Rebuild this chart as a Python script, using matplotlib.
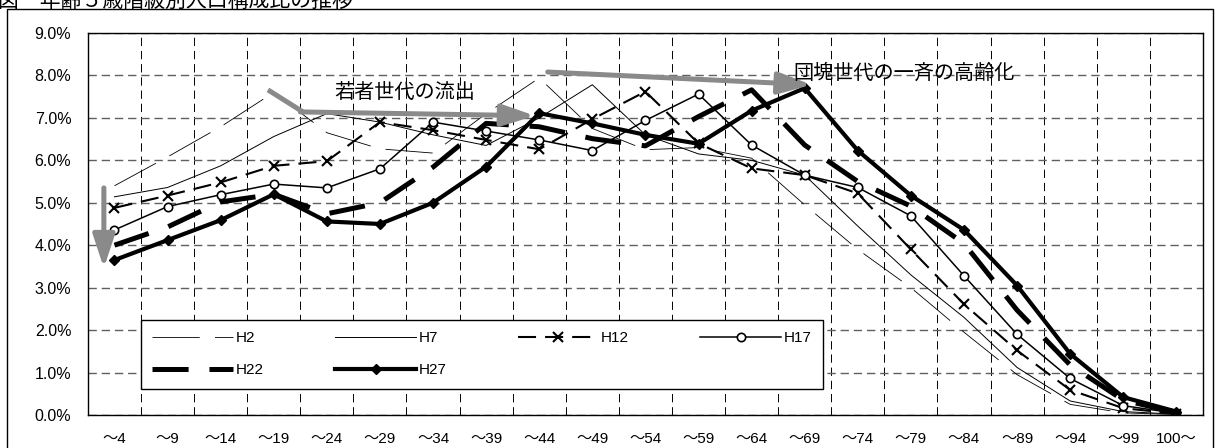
import matplotlib
matplotlib.use('Agg')
import matplotlib.pyplot as plt
from matplotlib.patches import Rectangle

plt.rcParams['font.family'] = ['Liberation Sans', 'Noto Sans CJK JP']
plt.rcParams['lines.scale_dashes'] = False

# 年齢階級
ages = ['～4', '～9', '～14', '～19', '～24', '～29', '～34', '～39', '～44', '～49',
        '～54', '～59', '～64', '～69', '～74', '～79', '～84', '～89', '～94', '～99', '100～']

# 構成比 (%)
h2 = [5.40, 6.08, 6.79, 7.60, 6.65, 6.27, 6.17, 7.10, 7.94, 6.75,
      6.25, 6.30, 6.05, 4.95, 3.90, 3.00, 1.95, 0.95, 0.25, 0.05, 0.01]
h7 = [5.14, 5.36, 5.87, 6.56, 7.10, 6.90, 6.60, 6.35, 7.00, 7.78,
      6.60, 6.15, 6.00, 5.65, 4.45, 3.30, 2.30, 1.12, 0.33, 0.08, 0.02]
h12 = [4.88, 5.17, 5.48, 5.87, 5.98, 6.90, 6.71, 6.48, 6.26, 6.97,
       7.62, 6.40, 5.81, 5.65, 5.22, 3.90, 2.61, 1.52, 0.59, 0.16, 0.03]
h17 = [4.36, 4.91, 5.19, 5.44, 5.35, 5.80, 6.90, 6.69, 6.48, 6.23,
       6.94, 7.56, 6.36, 5.65, 5.36, 4.69, 3.28, 1.90, 0.86, 0.22, 0.04]
h22 = [4.00, 4.43, 5.02, 5.20, 4.74, 5.00, 5.84, 6.87, 6.79, 6.51,
       6.34, 7.03, 7.66, 6.36, 5.50, 4.92, 4.04, 2.47, 1.18, 0.35, 0.06]
h27 = [3.65, 4.12, 4.59, 5.20, 4.56, 4.50, 5.00, 5.85, 7.11, 6.87,
       6.60, 6.39, 7.17, 7.70, 6.23, 5.17, 4.36, 3.05, 1.44, 0.42, 0.08]

x = list(range(len(ages)))

fig = plt.figure(figsize=(12.18, 4.48), dpi=100)
ax = fig.add_axes([0.0722, 0.0737, 0.9154, 0.8527])

# 各年の線
l2, = ax.plot(x, h2, color='black', lw=0.6, ls=(0, (34, 11)), dash_capstyle='butt', label='H2')
l7, = ax.plot(x, h7, color='black', lw=0.7, label='H7')
l12, = ax.plot(x, h12, color='black', lw=1.5, ls=(0, (13, 6.5)), dash_capstyle='butt',
               marker='x', ms=7, mew=1.5, label='H12')
l17, = ax.plot(x, h17, color='black', lw=1.1, marker='o', ms=6, mew=1.2, mfc='white', label='H17')
l22, = ax.plot(x, h22, color='black', lw=3.6, ls=(0, (26, 15)), dash_capstyle='butt', label='H22')
l27, = ax.plot(x, h27, color='black', lw=3.0, marker='D', ms=5, label='H27')

ax.set_xlim(-0.5, len(ages) - 0.5)
ax.set_ylim(0, 9)
ax.set_xticks(x)
ax.set_xticklabels(ages, fontsize=11)
ax.set_yticks(range(10))
ax.set_yticklabels([f'{v:.1f}%' for v in range(10)], fontsize=11.5)
ax.set_xticks([i + 0.5 for i in range(len(ages) - 1)], minor=True)
ax.tick_params(which='both', length=0)
ax.tick_params(axis='x', pad=12)
ax.tick_params(axis='y', pad=12)

ax.set_axisbelow(True)
ax.grid(axis='y', which='major', color='#606060', lw=1.0, ls=(0, (6, 3.5)))
ax.grid(axis='x', which='minor', color='black', lw=0.7, ls=(0, (6, 3.5)))
for s in ax.spines.values():
    s.set_linewidth(1.0)
    s.set_color('black')

# 凡例は横に H2 H7 H12 H17 / H22 H27 と並べる
handles = [l2, l22, l7, l27, l12, l17]
leg = ax.legend(handles=handles, labels=[h.get_label() for h in handles],
                ncol=4, loc='upper left', bbox_to_anchor=(0.0475, 0.0471, 0.6117, 0.2016),
                mode='expand', borderaxespad=0, fontsize=11, handlelength=5.3,
                handletextpad=0.15, labelspacing=1.18, borderpad=0.75,
                numpoints=1, fancybox=False, framealpha=1, edgecolor='black')
leg.get_frame().set_linewidth(1.0)
leg.set_zorder(20)

# 矢印と注記
gray = '#8a8a8a'
arw = dict(arrowstyle='-|>,head_length=1.0,head_width=0.33', lw=3.6, color=gray,
           shrinkA=0, shrinkB=0, mutation_scale=20)
ax.annotate('', xy=(-0.2, 3.46), xytext=(-0.2, 5.35), arrowprops=arw,
            annotation_clip=False, zorder=10)
ax.plot([2.89, 3.55], [7.66, 7.14], color=gray, lw=3.6, solid_capstyle='butt', zorder=10)
ax.annotate('', xy=(7.92, 7.05), xytext=(3.5, 7.14), arrowprops=arw, zorder=10)
ax.annotate('', xy=(13.13, 7.78), xytext=(8.16, 8.08), arrowprops=arw, zorder=10)
ax.text(4.15, 7.59, '若者世代の流出', fontsize=14.5, ha='left', va='center', zorder=11)
ax.text(12.78, 8.06, '団塊世代の一斉の高齢化', fontsize=14.5, ha='left', va='center', zorder=11)

# 外枠とタイトル (上端で切れている)
fig.add_artist(Rectangle((7 / 1218, -0.01), 1206 / 1218, 1 - 9 / 448 + 0.01, fill=False,
                         lw=1.0, ec='black', transform=fig.transFigure))
fig.text(-0.002, 1 - 1 / 448, '図　年齢５歳階級別人口構成比の推移', fontsize=15, ha='left', va='center')

fig.savefig('out.png', dpi=100)
